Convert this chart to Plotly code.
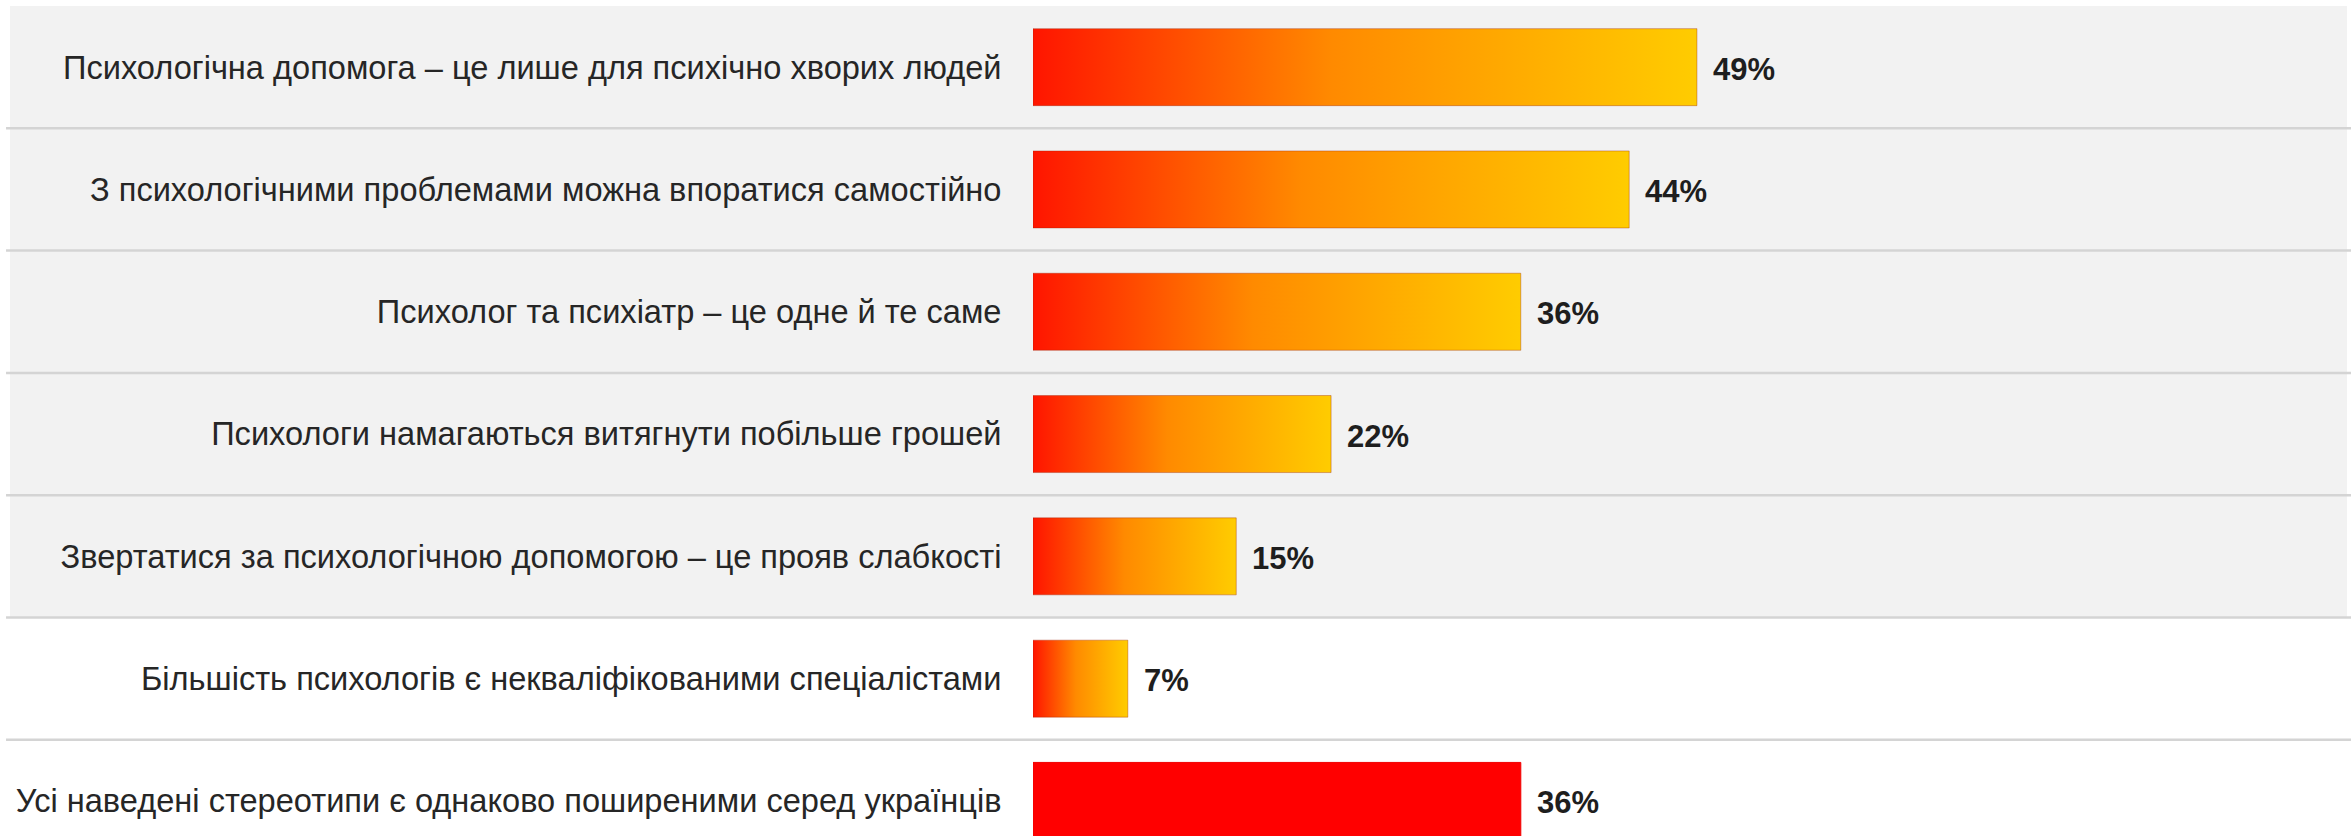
import plotly.graph_objects as go

# Survey: share of respondents who believe each stereotype about psychological help
categories = [
    "Психологічна допомога – це лише для психічно хворих людей",
    "З психологічними проблемами можна впоратися самостійно",
    "Психолог та психіатр – це одне й те саме",
    "Психологи намагаються витягнути побільше грошей",
    "Звертатися за психологічною допомогою – це прояв слабкості",
    "Більшість психологів є некваліфікованими спеціалістами",
    "Усі наведені стереотипи є однаково поширеними серед українців",
]
values = [49, 44, 36, 22, 15, 7, 36]
value_labels = ["49%", "44%", "36%", "22%", "15%", "7%", "36%"]

W, H = 2351, 836
LEFT = 1033          # left edge of the bars, px
PX_PER_PCT = 13.55   # horizontal scale
ROW_PX = 122.3       # height of one category row
TOP = 6

plot_w = W - LEFT
x_max = plot_w / PX_PER_PCT
rows_visible = (H - TOP) / ROW_PX

half = 0.315  # half bar thickness in row units
gradient = [[0, "#ff1500"], [0.45, "#ff8a00"], [1, "#ffcc00"]]

fig = go.Figure()

n = len(categories)
for i, (cat, v) in enumerate(zip(categories, values)):
    xs = [0, v, v, 0, 0]
    ys = [i - half, i - half, i + half, i + half, i - half]
    solid = i == n - 1
    trace = dict(
        x=xs, y=ys, mode="lines", fill="toself",
        line=dict(width=1, color="rgba(150,30,0,0.35)" if not solid else "#f00000"),
        hoverinfo="skip", showlegend=False,
    )
    if solid:
        trace["fillcolor"] = "#ff0000"
    else:
        trace["fillgradient"] = dict(type="horizontal", colorscale=gradient)
    fig.add_trace(go.Scatter(**trace))

# value labels at bar ends
for i, (v, lab) in enumerate(zip(values, value_labels)):
    fig.add_annotation(
        x=v, y=i, text=lab, showarrow=False, xanchor="left", yanchor="middle",
        xshift=14, yshift=-2,
        font=dict(family="Liberation Sans", size=31, color="#1e1e1e", weight="bold"),
    )

shapes = []
x0_paper = (10 - LEFT) / plot_w
x1_paper = (2347 - LEFT) / plot_w
x1_line = (W - LEFT) / plot_w
# shaded band behind the first five rows
shapes.append(dict(
    type="rect", xref="paper", yref="y", x0=x0_paper, x1=x1_paper,
    y0=-0.5, y1=4.5, fillcolor="#f2f2f2", line=dict(width=0), layer="below",
))
# row separators
for k in range(n - 1):
    shapes.append(dict(
        type="line", xref="paper", yref="y", x0=x0_paper - 0.003, x1=x1_line,
        y0=k + 0.5, y1=k + 0.5, line=dict(color="#d4d4d4", width=2.5), layer="below",
    ))

fig.update_layout(
    width=W, height=H,
    margin=dict(l=LEFT, r=0, t=TOP, b=0),
    paper_bgcolor="white", plot_bgcolor="rgba(0,0,0,0)",
    shapes=shapes,
    xaxis=dict(range=[0, x_max], visible=False, fixedrange=True),
    yaxis=dict(
        range=[-0.5 + rows_visible, -0.5],
        tickmode="array", tickvals=list(range(n)), ticktext=categories,
        showgrid=False, zeroline=False, showline=False,
        ticks="outside", ticklen=24, tickcolor="rgba(0,0,0,0)",
        tickfont=dict(family="Liberation Sans", size=32.6, color="#262626"),
        fixedrange=True,
    ),
)

fig.write_html("out.html")
